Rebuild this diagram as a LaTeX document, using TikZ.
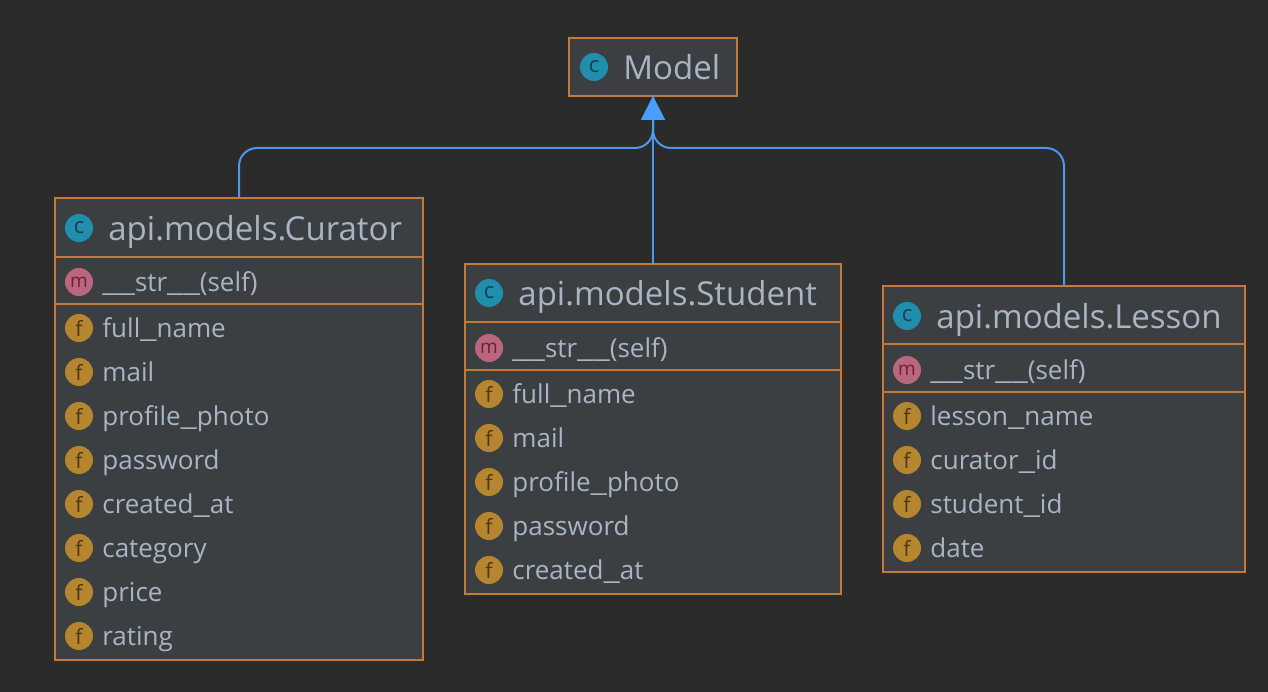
\documentclass[tikz,border=0pt]{standalone}
\usepackage{fontspec}
\setmainfont{Open Sans}
\usepackage{xcolor}
\usetikzlibrary{arrows.meta,positioning,calc}
\definecolor{umlback}{HTML}{2B2B2B}
\definecolor{umlfill}{HTML}{3B3F42}
\definecolor{umlline}{HTML}{C47A3A}
\definecolor{umltext}{HTML}{A9B5C4}
\definecolor{umlarrow}{HTML}{4F97EA}
\definecolor{umlhead}{HTML}{4A9EFF}
\definecolor{iconc}{HTML}{1F8FAD}
\definecolor{iconm}{HTML}{B9667E}
\definecolor{iconf}{HTML}{B5862F}
\definecolor{iconcl}{HTML}{123F55}
\definecolor{iconml}{HTML}{6E2035}
\definecolor{iconfl}{HTML}{4F3510}
\newcommand{\usc}{\scalebox{1.4}[1]{\_}}
\tikzset{
  umlbox/.style={draw=umlline, fill=umlfill, line width=2.4pt, anchor=north west, inner sep=0pt, outer sep=0pt},
  icon/.style={circle, inner sep=0pt, minimum size=28pt},
  classicon/.style={icon, fill=iconc, text=iconcl, font=\fontsize{22}{22}\selectfont},
  methodicon/.style={icon, fill=iconm, text=iconml, font=\fontsize{19}{19}\selectfont},
  fieldicon/.style={icon, fill=iconf, text=iconfl, font=\fontsize{21}{21}\selectfont},
  titletext/.style={text=umltext, inner sep=0pt, anchor=west, text height=27pt, text depth=2pt, font=\fontsize{33}{33}\selectfont},
  rowtext/.style={text=umltext, inner sep=0pt, anchor=west, text height=22pt, text depth=3pt, font=\fontsize{26}{26}\selectfont},
  inherit/.style={draw=umlarrow, line width=2pt, rounded corners=18pt},
}
\begin{document}
\begin{tikzpicture}[x=1pt,y=-1pt]
  \useasboundingbox[fill=umlback] (0,0) rectangle (1268,692);

  % parent class
  \node[umlbox, minimum width=168pt, minimum height=58pt] (model) at (569,38) {};
  \node[classicon] (modelicon) at (594,67) {c};
  \node[titletext, right=15pt of modelicon] (modeltitle) {Model};

  % curator
  \node[umlbox, minimum width=368pt, minimum height=59pt] (curator) at (55,198) {};
  \node[umlbox, minimum width=368pt, minimum height=47pt, below=0pt of curator.south west, anchor=north west] (curatorm) {};
  \node[umlbox, minimum width=368pt, minimum height=356pt, below=0pt of curatorm.south west, anchor=north west] (curatorf) {};
  \node[classicon] (curatoricon) at (79,228) {c};
  \node[titletext, right=15pt of curatoricon] (curatortitle) {api.models.Curator};
  \node[methodicon] (curatormicon) at (79,282) {m};
  \node[rowtext, right=9pt of curatormicon] (curatorstr) {\usc\usc str\usc\usc(self)};
  \foreach \i/\name in {0/full\usc name,1/mail,2/profile\usc photo,3/password,4/created\usc at,5/category,6/price,7/rating} {
    \node[fieldicon] (curatorficon\i) at (79,328+44*\i) {f};
    \node[rowtext, right=9pt of curatorficon\i] (curatorfield\i) {\name};
  }

  % student
  \node[umlbox, minimum width=376pt, minimum height=58pt] (student) at (465,264) {};
  \node[umlbox, minimum width=376pt, minimum height=48pt, below=0pt of student.south west, anchor=north west] (studentm) {};
  \node[umlbox, minimum width=376pt, minimum height=224pt, below=0pt of studentm.south west, anchor=north west] (studentf) {};
  \node[classicon] (studenticon) at (489,293) {c};
  \node[titletext, right=15pt of studenticon] (studenttitle) {api.models.Student};
  \node[methodicon] (studentmicon) at (489,348) {m};
  \node[rowtext, right=9pt of studentmicon] (studentstr) {\usc\usc str\usc\usc(self)};
  \foreach \i/\name in {0/full\usc name,1/mail,2/profile\usc photo,3/password,4/created\usc at} {
    \node[fieldicon] (studentficon\i) at (489,394+44*\i) {f};
    \node[rowtext, right=9pt of studentficon\i] (studentfield\i) {\name};
  }

  % lesson
  \node[umlbox, minimum width=362pt, minimum height=58pt] (lesson) at (883,286) {};
  \node[umlbox, minimum width=362pt, minimum height=48pt, below=0pt of lesson.south west, anchor=north west] (lessonm) {};
  \node[umlbox, minimum width=362pt, minimum height=180pt, below=0pt of lessonm.south west, anchor=north west] (lessonf) {};
  \node[classicon] (lessonicon) at (907,316) {c};
  \node[titletext, right=15pt of lessonicon] (lessontitle) {api.models.Lesson};
  \node[methodicon] (lessonmicon) at (907,370) {m};
  \node[rowtext, right=9pt of lessonmicon] (lessonstr) {\usc\usc str\usc\usc(self)};
  \foreach \i/\name in {0/lesson\usc name,1/curator\usc id,2/student\usc id,3/date} {
    \node[fieldicon] (lessonficon\i) at (907,416+44*\i) {f};
    \node[rowtext, right=9pt of lessonficon\i] (lessonfield\i) {\name};
  }

  % inheritance lines
  \coordinate (modeltip) at (model.south);
  \coordinate (curatorport) at (239,198);
  \coordinate (lessonport) at (1064,286);
  \draw[inherit] (curatorport) -- (239,148) -- (653,148) -- (modeltip);
  \draw[inherit] (lessonport) -- (1064,148) -- (653,148) -- (modeltip);
  \draw[draw=umlarrow, line width=2pt] (student.north) -- (modeltip);
  \draw[draw=umlhead, line width=2pt, -{Triangle[length=24pt,width=24pt,fill=umlhead]}] ($(modeltip)+(0,40)$) -- (modeltip);
\end{tikzpicture}
\end{document}
